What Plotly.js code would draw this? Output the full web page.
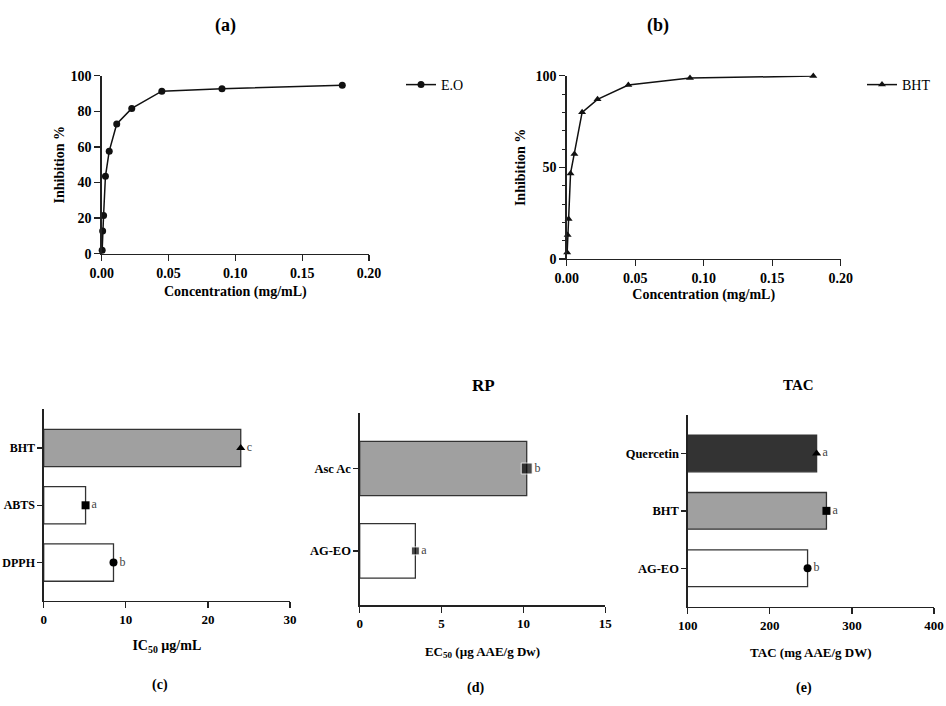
<!DOCTYPE html>
<html><head><meta charset="utf-8">
<script src="https://cdn.plot.ly/plotly-3.0.1.min.js"></script>
<style>html,body{margin:0;padding:0;background:#fff}#chart{width:946px;height:706px}</style>
</head><body><div id="chart"></div>
<script>
// ---- data ----
const concA = [0.00035, 0.0007, 0.0014, 0.0028, 0.005625, 0.01125, 0.0225, 0.045, 0.09, 0.18];
const inhibEO = [2.0, 12.8, 21.5, 43.5, 57.6, 72.9, 81.6, 91.3, 92.6, 94.7];
const concB = [0.00035, 0.0007, 0.0014, 0.0028, 0.005625, 0.01125, 0.0225, 0.045, 0.09, 0.18];
const inhibBHT = [3.6, 13.1, 21.8, 46.7, 57.3, 80.0, 87.1, 94.9, 98.7, 99.8];

const cCats = ['DPPH', 'ABTS', 'BHT'];
const cVals = [8.5, 5.1, 24.0];
const cLetters = ['b', 'a', 'c'];

const dCats = ['AG-EO', 'Asc Ac'];
const dVals = [3.4, 10.2];
const dLetters = ['a', 'b'];

const eCats = ['AG-EO', 'BHT', 'Quercetin'];
const eVals = [246, 269, 257];
const eLetters = ['b', 'a', 'a'];

// ---- helpers ----
const W = 946, H = 706;
const px = v => v / W, py = v => 1 - v / H;
const FAM = 'Liberation Serif';
const tickFont = s => ({family: FAM, size: s, color: '#000', weight: 700});
const titleFont = s => ({family: FAM, size: s, color: '#000', weight: 700});
const letterFont = {family: FAM, size: 12, color: '#444'};
const axBase = {showline: true, linecolor: '#222', linewidth: 1.3, ticks: 'outside', ticklen: 6,
  tickwidth: 1.3, tickcolor: '#222', showgrid: false, zeroline: false, fixedrange: true};

const traces = [
  {type: 'scatter', mode: 'lines+markers', name: 'E.O', x: concA, y: inhibEO, xaxis: 'x', yaxis: 'y',
   line: {color: '#111', width: 1.5}, marker: {symbol: 'circle', size: 7, color: '#111'},
   cliponaxis: false, legend: 'legend'},
  {type: 'scatter', mode: 'lines+markers', name: 'BHT', x: concB, y: inhibBHT, xaxis: 'x2', yaxis: 'y2',
   line: {color: '#111', width: 1.5}, marker: {symbol: 'triangle-up', size: 7, color: '#111'},
   cliponaxis: false, legend: 'legend2'},
  // (c)
  {type: 'bar', orientation: 'h', x: cVals, y: cCats, xaxis: 'x3', yaxis: 'y3', width: 0.65,
   marker: {color: ['#ffffff', '#ffffff', '#a0a0a0'], line: {color: '#333', width: 1.3}}, showlegend: false},
  {type: 'scatter', mode: 'markers+text', x: cVals, y: cCats, xaxis: 'x3', yaxis: 'y3',
   marker: {symbol: ['circle', 'square', 'triangle-up'], size: 8, color: '#000'},
   text: cLetters, textposition: 'middle right', textfont: letterFont,
   cliponaxis: false, showlegend: false},
  // (d)
  {type: 'bar', orientation: 'h', x: dVals, y: dCats, xaxis: 'x4', yaxis: 'y4', width: 0.66,
   marker: {color: ['#ffffff', '#a0a0a0'], line: {color: '#333', width: 1.3}}, showlegend: false},
  {type: 'scatter', mode: 'markers+text', x: dVals, y: dCats, xaxis: 'x4', yaxis: 'y4',
   marker: {symbol: 'square', size: [8, 11], color: '#000'},
   text: dLetters, textposition: 'middle right', textfont: letterFont,
   cliponaxis: false, showlegend: false},
  // (e)
  {type: 'bar', orientation: 'h', x: eVals, y: eCats, xaxis: 'x5', yaxis: 'y5', width: 0.64,
   marker: {color: ['#ffffff', '#a0a0a0', '#333333'], line: {color: '#333', width: 1.3}}, showlegend: false},
  {type: 'scatter', mode: 'markers+text', x: eVals, y: eCats, xaxis: 'x5', yaxis: 'y5',
   marker: {symbol: ['circle', 'square', 'triangle-up'], size: 8, color: '#000'},
   text: eLetters, textposition: 'middle right', textfont: letterFont,
   cliponaxis: false, showlegend: false}
];

const layout = {
  width: W, height: H, margin: {l: 0, r: 0, t: 0, b: 0},
  paper_bgcolor: '#fff', plot_bgcolor: 'rgba(0,0,0,0)',
  font: {family: FAM, color: '#000'},
  xaxis: Object.assign({}, axBase, {domain: [px(101.7), px(369)], anchor: 'y', range: [0, 0.2], dtick: 0.05,
    tickformat: '.2f', tickfont: tickFont(14),
    title: {text: 'Concentration (mg/mL)', font: titleFont(14), standoff: 6}}),
  yaxis: Object.assign({}, axBase, {domain: [py(253.7), py(75.7)], anchor: 'x', range: [0, 100], dtick: 20,
    tickfont: tickFont(14), title: {text: 'Inhibition %', font: titleFont(14), standoff: 2}}),
  xaxis2: Object.assign({}, axBase, {domain: [px(566.7), px(840.7)], anchor: 'y2', range: [0, 0.2], dtick: 0.05,
    tickformat: '.2f', tickfont: tickFont(14),
    title: {text: 'Concentration (mg/mL)', font: titleFont(14), standoff: 4}}),
  yaxis2: Object.assign({}, axBase, {domain: [py(259), py(75.7)], anchor: 'x2', range: [0, 100], dtick: 50,
    minor: {dtick: 10, ticks: 'outside', ticklen: 3, tickcolor: '#222', tickwidth: 1},
    tickfont: tickFont(14), title: {text: 'Inhibition %', font: titleFont(14), standoff: 6}}),
  xaxis3: Object.assign({}, axBase, {domain: [px(43.7), px(290)], anchor: 'y3', range: [0, 30], dtick: 10,
    tickfont: tickFont(13), title: {text: 'IC<sub>50</sub> µg/mL', font: titleFont(14), standoff: 14}}),
  yaxis3: Object.assign({}, axBase, {domain: [py(601), py(409)], anchor: 'x3', type: 'category',
    categoryorder: 'array', categoryarray: cCats, range: [-0.67, 2.68], ticklen: 5, tickfont: tickFont(12)}),
  xaxis4: Object.assign({}, axBase, {domain: [px(359.7), px(605.3)], anchor: 'y4', range: [0, 15], dtick: 5,
    tickfont: tickFont(13), title: {text: 'EC<sub>50</sub> (µg AAE/g Dw)', font: titleFont(13), standoff: 16}}),
  yaxis4: Object.assign({}, axBase, {domain: [py(605.3), py(413.3)], anchor: 'x4', type: 'category',
    categoryorder: 'array', categoryarray: dCats, range: [-0.66, 1.67], ticklen: 5, tickfont: tickFont(12.5)}),
  xaxis5: Object.assign({}, axBase, {domain: [px(687.7), px(934)], anchor: 'y5', range: [100, 400], dtick: 100,
    tickfont: tickFont(13), title: {text: 'TAC (mg AAE/g DW)', font: titleFont(13), standoff: 16}}),
  yaxis5: Object.assign({}, axBase, {domain: [py(606.7), py(415)], anchor: 'x5', type: 'category',
    categoryorder: 'array', categoryarray: eCats, range: [-0.67, 2.67], ticklen: 5, tickfont: tickFont(12.5)}),
  legend: {x: px(401), y: py(85), xanchor: 'left', yanchor: 'middle', bgcolor: 'rgba(0,0,0,0)',
    font: {family: FAM, size: 14, color: '#000'}},
  legend2: {x: px(862), y: py(85), xanchor: 'left', yanchor: 'middle', bgcolor: 'rgba(0,0,0,0)',
    font: {family: FAM, size: 14, color: '#000'}},
  annotations: [
    {text: '(a)', x: px(213), y: py(13), xref: 'paper', yref: 'paper', showarrow: false, font: titleFont(18)},
    {text: '(b)', x: px(671), y: py(13), xref: 'paper', yref: 'paper', showarrow: false, font: titleFont(18)},
    {text: '(c)', x: px(150), y: py(695), xref: 'paper', yref: 'paper', showarrow: false, font: titleFont(14)},
    {text: '(d)', x: px(475), y: py(698), xref: 'paper', yref: 'paper', showarrow: false, font: titleFont(14)},
    {text: '(e)', x: px(814), y: py(698), xref: 'paper', yref: 'paper', showarrow: false, font: titleFont(14)},
    {text: 'RP', x: px(483), y: py(385), xref: 'paper', yref: 'paper', showarrow: false, font: titleFont(17)},
    {text: 'TAC', x: px(816), y: py(385), xref: 'paper', yref: 'paper', showarrow: false, font: titleFont(15)}
  ]
};

Plotly.newPlot('chart', traces, layout, {displayModeBar: false, staticPlot: true});
</script>
</body></html>
